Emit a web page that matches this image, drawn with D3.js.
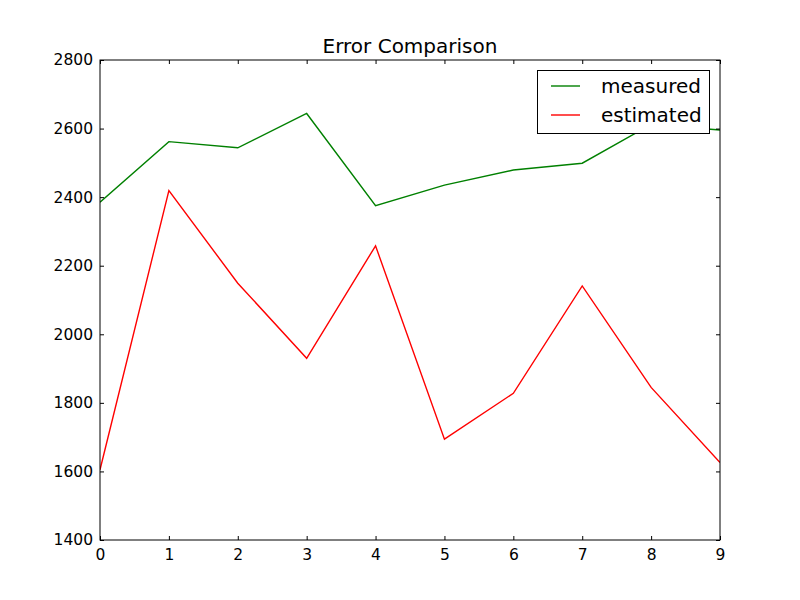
<!DOCTYPE html>
<html><head><meta charset="utf-8">
<script src="https://cdn.jsdelivr.net/npm/d3@7"></script>
<style>body{margin:0;background:#fff}svg{display:block}text{font-family:"DejaVu Sans",sans-serif}</style>
</head><body>
<svg id="c" width="800" height="600"></svg>
<script>
const xValues = [0,1,2,3,4,5,6,7,8,9];
const measured = [2385,2562,2544,2644,2375,2435,2479,2499,2612,2596];
const estimated = [1605,2419,2149,1930,2258,1694,1828,2141,1845,1626];
const seriesNames = ["measured","estimated"];
const xTicks = [0,1,2,3,4,5,6,7,8,9];
const yTicks = [1400,1600,1800,2000,2200,2400,2600,2800];

(function(){
const svg = d3.select("#c");
const L=100,R=720,T=60,B=540;
const x = d3.scaleLinear().domain([0,9]).range([L,R]);
const y = d3.scaleLinear().domain([1400,2800]).range([B,T]);

svg.append("rect").attr("width",800).attr("height",600).attr("fill","#fff");

svg.append("defs").append("clipPath").attr("id","clip")
  .append("rect").attr("x",L).attr("y",T).attr("width",R-L).attr("height",B-T);

const line = d3.line().x((d,i)=>x(xValues[i])).y(d=>y(d));
const g = svg.append("g").attr("clip-path","url(#clip)");
g.append("path").datum(measured).attr("d",line).attr("fill","none").attr("stroke","#008000").attr("stroke-width",1.4);
g.append("path").datum(estimated).attr("d",line).attr("fill","none").attr("stroke","#ff0000").attr("stroke-width",1.4);

const fs = "15.5px";
const axB = svg.append("g").attr("transform",`translate(0,${B})`)
  .call(d3.axisBottom(x).tickValues(xTicks).tickSize(-4).tickPadding(9).tickFormat(d3.format("d")));
const axT = svg.append("g").attr("transform",`translate(0,${T})`)
  .call(d3.axisTop(x).tickValues(xTicks).tickSize(-4).tickFormat(""));
const axL = svg.append("g").attr("transform",`translate(${L},0)`)
  .call(d3.axisLeft(y).tickValues(yTicks).tickSize(-4).tickPadding(7).tickFormat(d3.format("d")));
const axR = svg.append("g").attr("transform",`translate(${R},0)`)
  .call(d3.axisRight(y).tickValues(yTicks).tickSize(-4).tickFormat(""));
[axB,axT,axL,axR].forEach(a=>{
  a.select(".domain").remove();
  a.selectAll("line").attr("stroke","#000");
  a.selectAll("text").attr("font-size",fs).attr("fill","#000").style("font-family","DejaVu Sans");
});
svg.append("rect").attr("x",L).attr("y",T).attr("width",R-L).attr("height",B-T)
  .attr("fill","none").attr("stroke","#000").attr("stroke-width",1);

svg.append("text").attr("x",(L+R)/2).attr("y",53).attr("text-anchor","middle")
  .attr("font-size","20px").text("Error Comparison");

const lg = svg.append("g");
lg.append("rect").attr("x",537.5).attr("y",70.5).attr("width",172).attr("height",63)
  .attr("fill","#fff").attr("stroke","#000").attr("stroke-width",1);
const cols = ["#008000","#ff0000"];
seriesNames.forEach((n,i)=>{
  const yy = 86 + i*29;
  lg.append("line").attr("x1",551).attr("x2",580).attr("y1",yy).attr("y2",yy)
    .attr("stroke",cols[i]).attr("stroke-width",1.4);
  lg.append("text").attr("x",601).attr("y",yy+7).attr("font-size","20px").text(n);
});
})();
</script>
</body></html>
